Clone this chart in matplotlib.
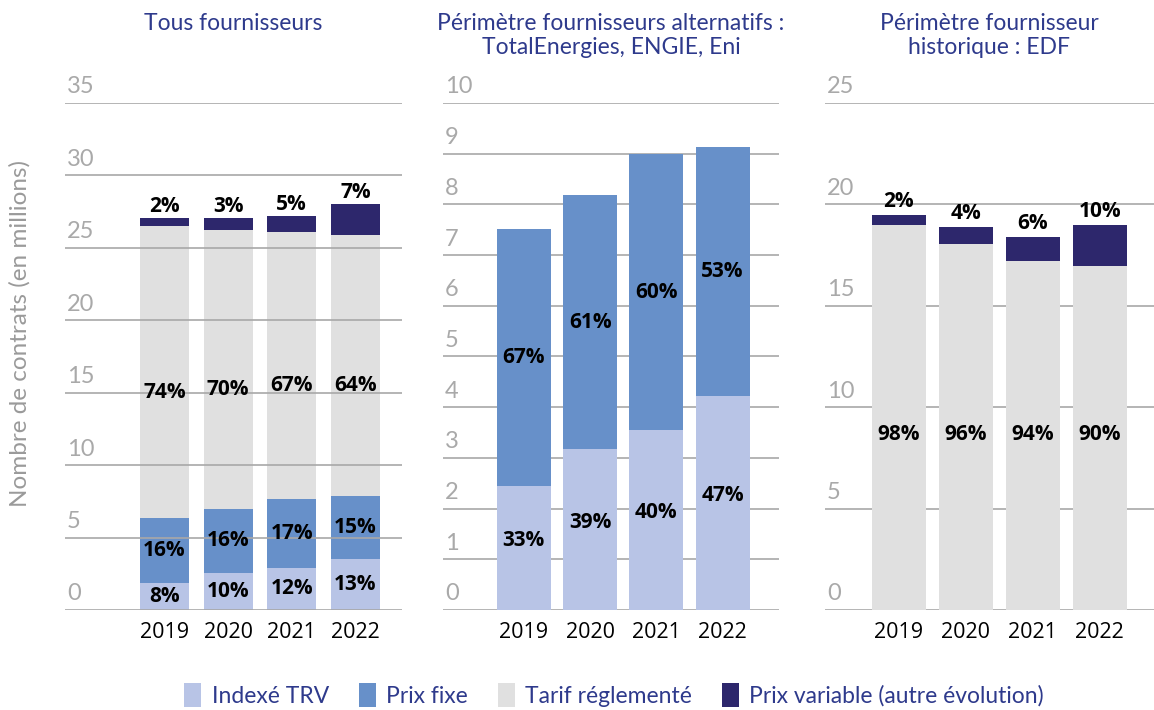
import matplotlib
matplotlib.use("Agg")
import matplotlib.pyplot as plt
import matplotlib.transforms as mtransforms
from matplotlib.patches import Patch
import numpy as np

years = ["2019", "2020", "2021", "2022"]
series_names = ["Indexé TRV", "Prix fixe", "Tarif réglementé", "Prix variable (autre évolution)"]

# Panel 1 : Tous fournisseurs (millions de contrats)
all_indexe = [1.88, 2.58, 2.92, 3.54]
all_fixe = [4.49, 4.42, 4.76, 4.35]
all_tarif = [20.13, 19.20, 18.42, 18.01]
all_variable = [0.55, 0.85, 1.10, 2.10]
all_indexe_pct = ["8%", "10%", "12%", "13%"]
all_fixe_pct = ["16%", "16%", "17%", "15%"]
all_tarif_pct = ["74%", "70%", "67%", "64%"]
all_variable_pct = ["2%", "3%", "5%", "7%"]

# Panel 2 : fournisseurs alternatifs
alt_indexe = [2.45, 3.17, 3.55, 4.22]
alt_fixe = [5.06, 5.01, 5.44, 4.91]
alt_indexe_pct = ["33%", "39%", "40%", "47%"]
alt_fixe_pct = ["67%", "61%", "60%", "53%"]

# Panel 3 : fournisseur historique EDF
edf_tarif = [18.99, 18.05, 17.19, 16.95]
edf_variable = [0.48, 0.83, 1.19, 2.04]
edf_tarif_pct = ["98%", "96%", "94%", "90%"]
edf_variable_pct = ["2%", "4%", "6%", "10%"]

titles = ["Tous fournisseurs",
          "Périmètre fournisseurs alternatifs :\nTotalEnergies, ENGIE, Eni",
          "Périmètre fournisseur\nhistorique : EDF"]
ylabel = "Nombre de contrats (en millions)"

C_IDX = "#b8c4e6"
C_FIX = "#6790c9"
C_TAR = "#e0e0e0"
C_VAR = "#2d276c"
C_TITLE = "#2e3a8c"
C_GRID = "#a8a8a8"
C_TICK = "#a9a9a9"

FONT = ["Lato", "DejaVu Sans"]
plt.rcParams["font.family"] = FONT

W, H = 1154, 710
fig = plt.figure(figsize=(W / 100, H / 100), dpi=100)

def px_axes(x0, x1, ytop, ybot):
    return fig.add_axes([x0 / W, (H - ybot) / H, (x1 - x0) / W, (ybot - ytop) / H])

ax1 = px_axes(65, 402, 103, 610)
ax2 = px_axes(443, 779, 103, 610)
ax3 = px_axes(825, 1154, 103, 610)

configs = [
    (ax1, 35, 5, (-1.56, 3.73), 0.77, True),
    (ax2, 10, 1, (-1.22, 3.85), 0.815, False),
    (ax3, 25, 5, (-1.10, 3.81), 0.80, False),
]

x = np.arange(len(years))

for ax, ymax, step, xl, _, ontop in configs:
    ax.set_ylim(0, ymax)
    ax.set_xlim(*xl)
    for s in ax.spines.values():
        s.set_visible(False)
    ax.set_yticks([])
    ax.set_xticks(x)
    ax.set_xticklabels(years, fontsize=15.5, color="black", family=["Open Sans", "DejaVu Sans"])
    ax.tick_params(axis="x", length=0, pad=9)
    trans = mtransforms.blended_transform_factory(ax.transAxes, ax.transData)
    off = mtransforms.ScaledTranslation(0, 4 / 72, fig.dpi_scale_trans)
    for v in range(0, ymax + 1, step):
        ax.axhline(v, color=C_GRID, lw=1.2, zorder=5 if ontop else 0)
        ax.text(0.006, v, str(v), transform=trans + off, ha="left", va="bottom",
                fontsize=17, color=C_TICK, fontweight="normal",
                family=["Lato", "DejaVu Sans"])

lab_kw = dict(ha="center", va="center", fontsize=15, fontweight="bold", color="black",
              family=["Open Sans", "DejaVu Sans"], zorder=10)

# Panel 1
w1 = configs[0][4]
a = np.array(all_indexe); b = np.array(all_fixe); c = np.array(all_tarif); d = np.array(all_variable)
ax1.bar(x, a, w1, color=C_IDX, zorder=2)
ax1.bar(x, b, w1, bottom=a, color=C_FIX, zorder=2)
ax1.bar(x, c, w1, bottom=a + b, color=C_TAR, zorder=2)
ax1.bar(x, d, w1, bottom=a + b + c, color=C_VAR, zorder=2)
for i in range(len(years)):
    ax1.text(x[i], max(a[i] / 2, 0.8), all_indexe_pct[i], **lab_kw)
    ax1.text(x[i], a[i] + b[i] / 2, all_fixe_pct[i], **lab_kw)
    ax1.text(x[i], a[i] + b[i] + c[i] / 2 - 1.4, all_tarif_pct[i], **lab_kw)
    ax1.annotate(all_variable_pct[i], (x[i], a[i] + b[i] + c[i] + d[i]), xytext=(0, 1),
                 textcoords="offset points", **{**lab_kw, "va": "bottom"})

# Panel 2
w2 = configs[1][4]
a = np.array(alt_indexe); b = np.array(alt_fixe)
ax2.bar(x, a, w2, color=C_IDX, zorder=2)
ax2.bar(x, b, w2, bottom=a, color=C_FIX, zorder=2)
for i in range(len(years)):
    ax2.text(x[i], a[i] / 2 + 0.15, alt_indexe_pct[i], **lab_kw)
    ax2.text(x[i], a[i] + b[i] / 2, alt_fixe_pct[i], **lab_kw)

# Panel 3
w3 = configs[2][4]
c = np.array(edf_tarif); d = np.array(edf_variable)
ax3.bar(x, c, w3, color=C_TAR, zorder=2)
ax3.bar(x, d, w3, bottom=c, color=C_VAR, zorder=2)
for i in range(len(years)):
    ax3.text(x[i], c.min() / 2 + 0.2, edf_tarif_pct[i], **lab_kw)
    ax3.annotate(edf_variable_pct[i], (x[i], c[i] + d[i]), xytext=(0, 2),
                 textcoords="offset points", **{**lab_kw, "va": "bottom"})

# Titles
for ax, t in zip([ax1, ax2, ax3], titles):
    bb = ax.get_position()
    cx = (bb.x0 + bb.x1) / 2
    fig.text(cx, 1 - 13 / H, t, ha="center", va="top", fontsize=16.5, color=C_TITLE,
             linespacing=1.2, family=["Lato", "DejaVu Sans"])

fig.text(20 / W, 1 - 333 / H, ylabel, rotation=90, ha="center", va="center",
         fontsize=17.5, color="#9a9a9a", family=["Lato", "DejaVu Sans"])

handles = [Patch(facecolor=col, edgecolor="none") for col in [C_IDX, C_FIX, C_TAR, C_VAR]]
leg = fig.legend(handles, series_names, loc="center", bbox_to_anchor=(614 / W, 1 - 695 / H),
                 ncol=4, frameon=False, prop={"family": ["Lato", "DejaVu Sans"], "size": 16.5},
                 handlelength=0.75, handleheight=1.25,
                 handletextpad=0.45, columnspacing=1.3, borderaxespad=0)
for t in leg.get_texts():
    t.set_color(C_TITLE)

fig.savefig("out.png", dpi=100)
